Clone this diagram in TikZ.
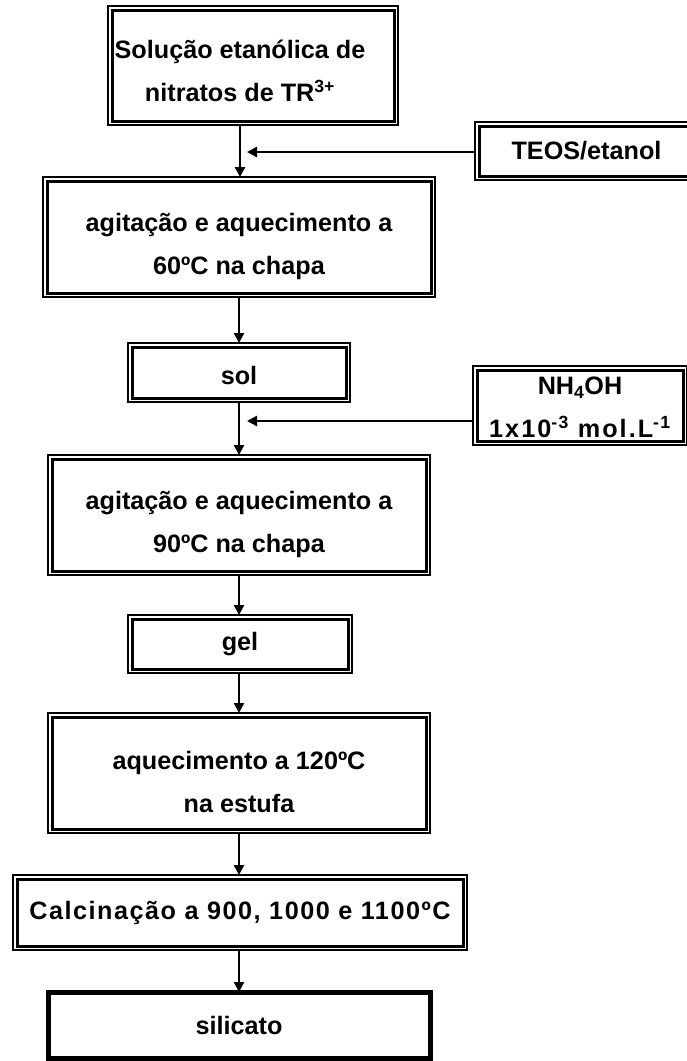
\documentclass[tikz,border=0pt]{standalone}
\usepackage{fontspec}
\setmainfont{Liberation Sans}
\usetikzlibrary{arrows.meta}
\begin{document}
\begin{tikzpicture}[x=1pt,y=-1pt,
  boxframe/.style={draw, line width=1.3pt, inner sep=0pt, outer sep=0pt},
  singleframe/.style={draw, line width=5pt, inner sep=0pt, outer sep=0pt},
  txt/.style={inner sep=0pt, align=center, font=\bfseries\fontsize{25.2}{43}\selectfont},
  arr/.style={line width=2.5pt, -{Triangle[width=10pt,length=10pt]}}]
\useasboundingbox (0,0) rectangle (686,1061);
\node[boxframe, minimum width=290pt, minimum height=119pt] (b1) at (253,65.5) {};
\node[txt] (t1) at (240,71) {Solução etanólica de\\nitratos de TR\textsuperscript{3+}};
\node[boxframe, minimum width=392pt, minimum height=120pt,
  label={[txt, yshift=-9pt]center:agitação e aquecimento a\\60ºC na chapa}] (b2) at (239,237) {};
\node[boxframe, minimum width=223pt, minimum height=58pt,
  label={[txt]center:TEOS/etanol}] (teos) at (586.5,151) {};
\node[boxframe, minimum width=222pt, minimum height=59pt,
  label={[txt, yshift=-3pt]center:sol}] (sol) at (239,372.5) {};
\node[boxframe, minimum width=214pt, minimum height=79pt,
  label={[txt, yshift=-2pt]center:NH\textsubscript{4}OH\\{\addfontfeature{LetterSpace=8}1x10\textsuperscript{-3} mol.L\textsuperscript{-1}}}] (nh) at (580,405.5) {};
\node[boxframe, minimum width=382pt, minimum height=120pt,
  label={[txt, yshift=-9pt]center:agitação e aquecimento a\\90ºC na chapa}] (b3) at (239,515) {};
\node[boxframe, minimum width=224pt, minimum height=58pt,
  label={[txt]center:gel}] (gel) at (240,644) {};
\node[boxframe, minimum width=382pt, minimum height=120pt,
  label={[txt, yshift=-9pt]center:aquecimento a 120ºC\\na estufa}] (b4) at (239,773) {};
\node[boxframe, minimum width=454pt, minimum height=75pt,
  label={[txt]center:{\addfontfeature{LetterSpace=6}Calcinação a 900, 1000 e 1100ºC}}] (calc) at (240,912.5) {};
\node[singleframe, minimum width=382pt, minimum height=66pt,
  label={[txt]center:silicato}] (sil) at (239,1025) {};
\foreach \n in {b1,b2,teos,sol,nh,b3,gel,b4,calc}
  \draw[line width=3pt] ([shift={(4pt,-4pt)}]\n.north west) rectangle ([shift={(-4pt,4pt)}]\n.south east);
\coordinate (h1) at (247,152);
\coordinate (h2) at (247,421);
\draw[arr] (t1.center |- b1.south) -- (t1.center |- b2.north);
\draw[arr] (teos.west |- h1) -- (h1);
\draw[arr] (b2.south) -- (sol.north);
\draw[arr] (nh.west |- h2) -- (h2);
\draw[arr] (sol.south) -- (b3.north);
\draw[arr] (b3.south) -- (b3.south |- gel.north);
\draw[arr] (b3.south |- gel.south) -- (b4.north);
\draw[arr] (b4.south) -- (b4.south |- calc.north);
\draw[arr] (b4.south |- calc.south) -- (sil.north);
\end{tikzpicture}
\end{document}
